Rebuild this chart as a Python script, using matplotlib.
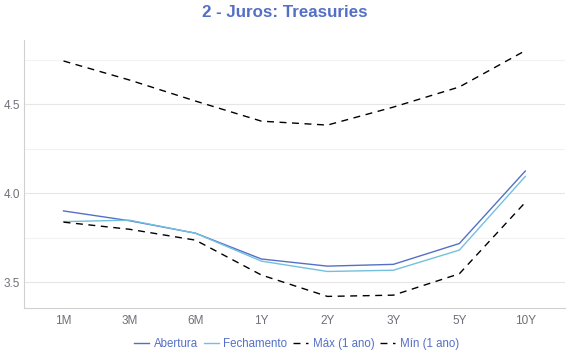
import matplotlib.pyplot as plt
import numpy as np

plt.rcParams['font.family'] = ['Liberation Sans', 'DejaVu Sans']

vertices = ["1M", "3M", "6M", "1Y", "2Y", "3Y", "5Y", "10Y"]
abertura = [3.90, 3.845, 3.775, 3.63, 3.59, 3.60, 3.717, 4.124]
fechamento = [3.84, 3.848, 3.775, 3.618, 3.56, 3.567, 3.68, 4.094]
maximo = [4.742, 4.635, 4.517, 4.404, 4.382, 4.483, 4.596, 4.80]
minimo = [3.837, 3.797, 3.736, 3.54, 3.42, 3.427, 3.547, 3.948]

fig = plt.figure(figsize=(5.7, 3.6), dpi=100)
ax = fig.add_axes([0.042, 0.144, 0.949, 0.745])

x = np.arange(len(vertices))
ax.plot(x, abertura, color='#5470c6', lw=1, label='Abertura')
ax.plot(x, fechamento, color='#73c0de', lw=1, label='Fechamento')
ax.plot(x, maximo, color='black', lw=1, ls=(0, (5, 4)), label='Máx (1 ano)')
ax.plot(x, minimo, color='black', lw=1, ls=(0, (5, 4)), label='Mín (1 ano)')

ax.set_xlim(-0.6, 7.6)
ax.set_ylim(3.354, 4.86)
ax.set_xticks(x)
ax.set_xticklabels(vertices)
ax.set_yticks([3.5, 4.0, 4.5])
ax.set_yticks([3.75, 4.25, 4.75], minor=True)
ax.grid(True, axis='y', which='major', color='#e6e6e6', lw=0.8)
ax.grid(True, axis='y', which='minor', color='#f2f2f2', lw=0.8)
ax.set_axisbelow(True)
ax.tick_params(axis='x', length=0, labelsize=8.5, colors='#6e7079', pad=5)
ax.tick_params(axis='y', length=0, labelsize=8.5, colors='#6e7079', pad=3)
ax.tick_params(axis='y', which='minor', length=0)
for s in ['top', 'right']:
    ax.spines[s].set_visible(False)
for s in ['left', 'bottom']:
    ax.spines[s].set_color('#d0d0d0')
    ax.spines[s].set_linewidth(0.8)

fig.suptitle("2 - Juros: Treasuries", x=0.5, y=0.985, fontsize=12.2,
             fontweight='bold', color='#5470c6')

leg = fig.legend(loc='center', bbox_to_anchor=(0.52, 0.045), ncol=4, frameon=False,
                 fontsize=8.3, handlelength=1.3, handletextpad=0.4, columnspacing=0.5)
for t in leg.get_texts():
    t.set_color('#5470c6')

fig.savefig("out.png", dpi=100)
